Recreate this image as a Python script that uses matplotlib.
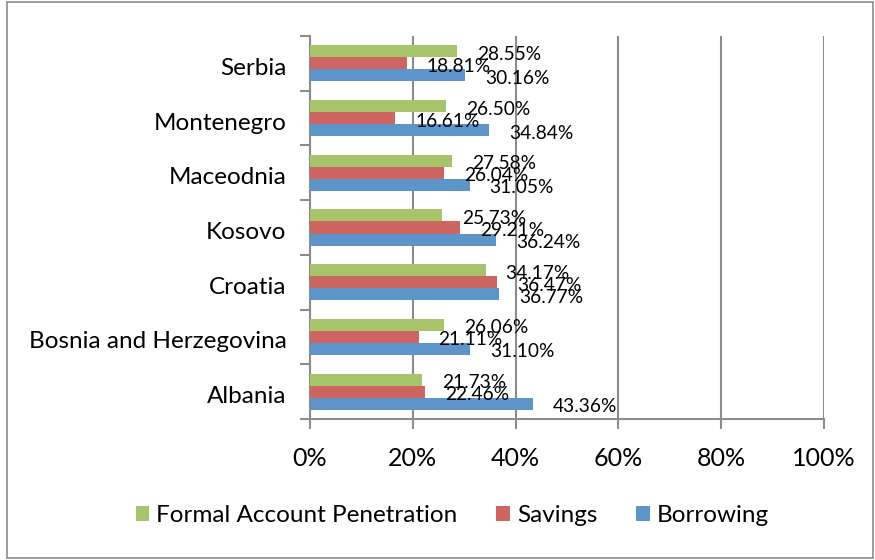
import matplotlib.pyplot as plt
import matplotlib.patches as mpatches
from matplotlib.ticker import FixedLocator, NullFormatter
from matplotlib.transforms import ScaledTranslation
import numpy as np

plt.rcParams['font.family'] = ['Lato', 'DejaVu Sans']

countries = ['Albania', 'Bosnia and Herzegovina', 'Croatia', 'Kosovo',
             'Maceodnia', 'Montenegro', 'Serbia']
account = [21.73, 26.06, 34.17, 25.73, 27.58, 26.50, 28.55]
savings = [22.46, 21.11, 36.47, 29.21, 26.04, 16.61, 18.81]
borrowing = [43.36, 31.10, 36.77, 36.24, 31.05, 34.84, 30.16]

series = [('Formal Account Penetration', account, '#A8C46B', 0.22),
          ('Savings', savings, '#CD6660', 0.0),
          ('Borrowing', borrowing, '#5D95CB', -0.22)]

fig = plt.figure(figsize=(8.75, 5.6), dpi=100)
ax = fig.add_axes([310 / 875, 1 - 419 / 560, 514 / 875, 383 / 560])

y = np.arange(len(countries))
grey = '#8C8C8C'
for name, vals, col, off in series:
    ax.barh(y + off, vals, height=0.22, color=col, label=name, zorder=3)
    for yi, v in zip(y, vals):
        ax.annotate('{:.2f}%'.format(v), (v, yi + off), xytext=(20, -3),
                    textcoords='offset pixels', ha='left', va='center',
                    fontsize=13.8, color='black', zorder=4)

ax.set_xlim(0, 100)
ax.set_ylim(-0.5, len(countries) - 0.5)
ax.set_xticks(np.arange(0, 101, 20))
ax.set_xticklabels(['{}%'.format(t) for t in range(0, 101, 20)], fontsize=18)
ax.xaxis.grid(True, color=grey, linewidth=1.5, zorder=0)

ax.yaxis.set_major_locator(FixedLocator(np.arange(-0.5, len(countries), 1)))
ax.yaxis.set_major_formatter(NullFormatter())
ax.yaxis.set_minor_locator(FixedLocator(y))
ax.set_yticklabels(countries, minor=True, fontsize=17.5)
ax.tick_params(axis='y', which='major', length=7, color=grey, width=1.5)
ax.tick_params(axis='y', which='minor', length=0, pad=17)
ax.tick_params(axis='x', length=7, color=grey, width=1.5, pad=13)
shift = ScaledTranslation(0, -3 / 100, fig.dpi_scale_trans)
for lbl in ax.get_yticklabels(minor=True):
    lbl.set_transform(lbl.get_transform() + shift)

for s in ['top', 'right']:
    ax.spines[s].set_visible(False)
for s in ['left', 'bottom']:
    ax.spines[s].set_color(grey)
    ax.spines[s].set_linewidth(1.5)

fig.legend(loc='center', bbox_to_anchor=(0.517, 0.079), ncol=3, frameon=False,
           fontsize=17.5, handlelength=0.55, handleheight=0.55, handletextpad=0.3,
           columnspacing=1.6)

fig.patches.append(mpatches.Rectangle((7 / 875, 2 / 560), 866 / 875, 556 / 560,
                                      transform=fig.transFigure, fill=False,
                                      edgecolor=grey, linewidth=1.2))

fig.savefig('out.png', dpi=100)
